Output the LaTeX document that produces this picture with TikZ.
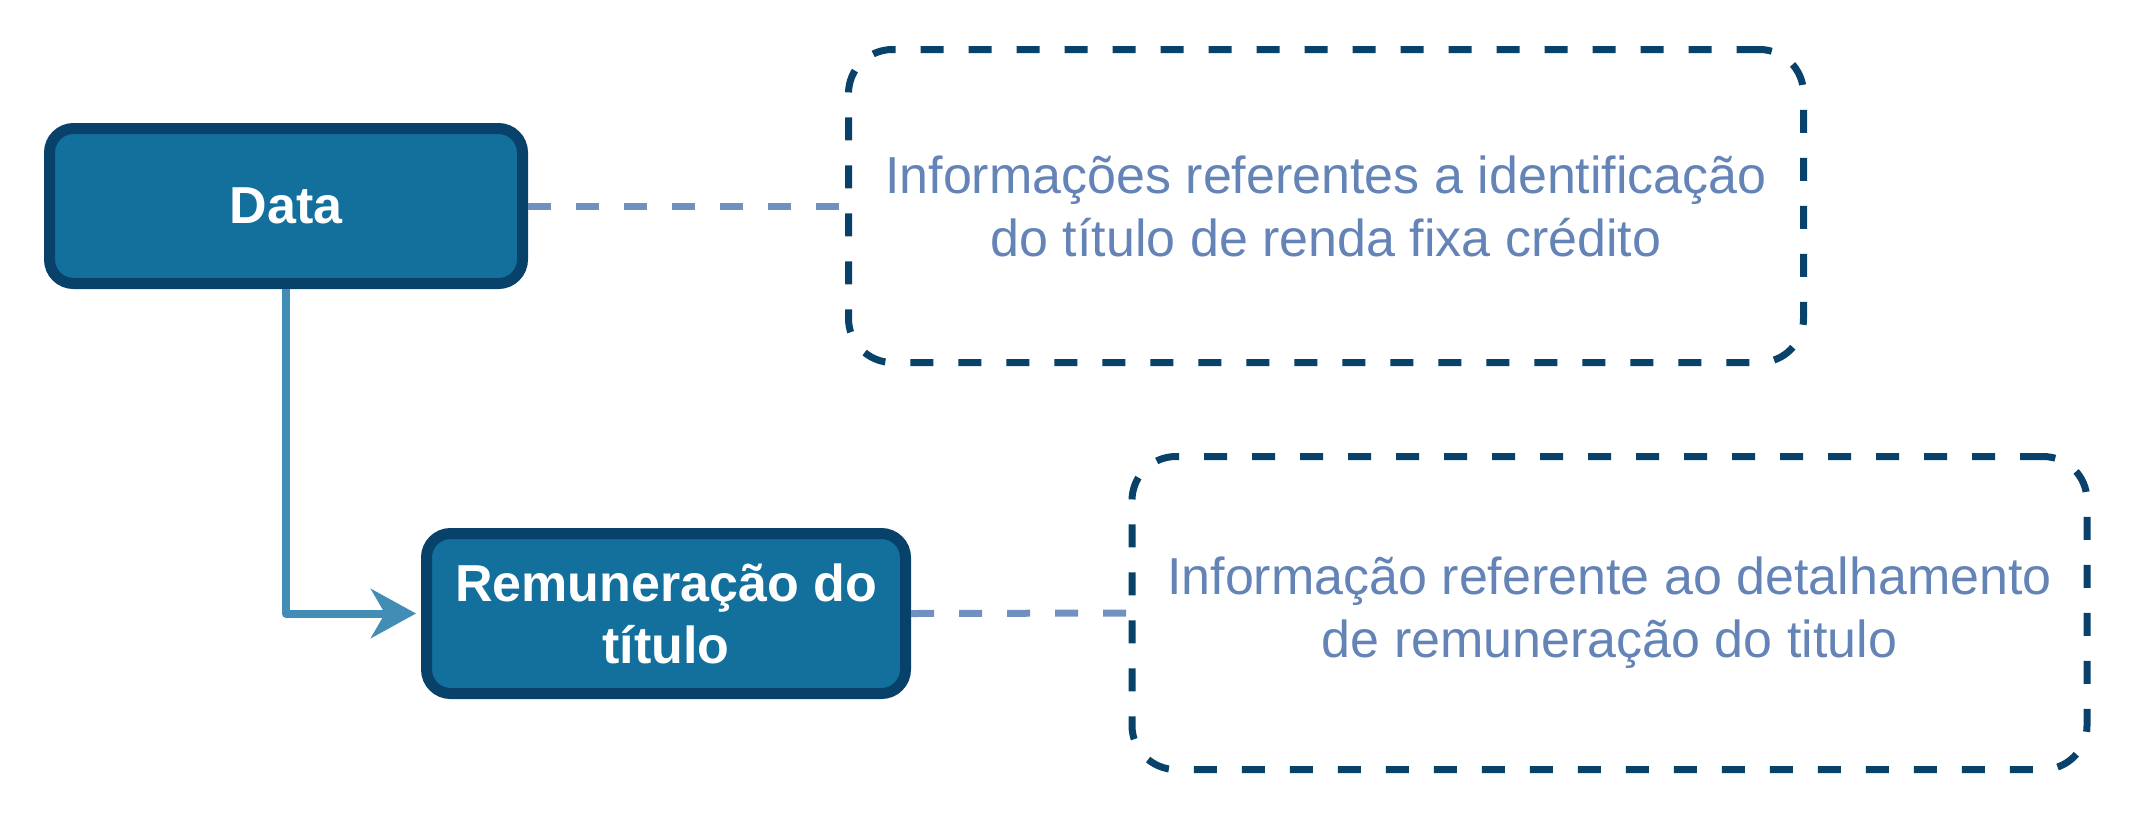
\documentclass[tikz,border=0pt]{standalone}
\usepackage{fontspec}
\setmainfont{Liberation Sans}
\usetikzlibrary{arrows.meta,positioning}
\definecolor{boxfill}{HTML}{13709C}
\definecolor{boxline}{HTML}{08426A}
\definecolor{infotext}{HTML}{6483B6}
\definecolor{linkline}{HTML}{7090C0}
\definecolor{arrowline}{HTML}{428DB5}
\begin{document}
\begin{tikzpicture}[x=0.5pt, y=-0.5pt, line join=round, >=Stealth,
	block/.style={draw=boxline, fill=boxfill, line width=5.5pt, rounded corners=12pt,
		text=white, font=\fontsize{26}{31}\selectfont\bfseries, align=center, inner sep=0pt},
	infobox/.style={draw=boxline, line width=3.5pt, dash pattern=on 11.5pt off 12.5pt,
		rounded corners=22pt, minimum width=477.5pt, minimum height=156.5pt,
		text=infotext, font=\fontsize{26}{31.5}\selectfont, align=center, inner sep=0pt},
	link/.style={draw=linkline, line width=3.5pt, dash pattern=on 11.5pt off 12.5pt}]
	\useasboundingbox (0,0) rectangle (2136,816);
	\node[block, minimum width=236.5pt, minimum height=77.5pt] (data) at (286,206) {Data};
	\node[block, minimum width=239.5pt, minimum height=80pt] (remun) at (666,613.5) {Remuneração do\\título};
	\node[infobox] (info1) at (1326,206) {Informações referentes a identificação\\do título de renda fixa crédito};
	\node[infobox] (info2) at (1609.5,613) {Informação referente ao detalhamento\\de remuneração do titulo};
	\draw[link] (data.east) -- (info1.west);
	\draw[link] (remun.east) -- (info2.west);
	\draw[arrowline, line width=4pt, -{Stealth[length=22.5pt, width=24.5pt, inset=7pt]}]
		(data.south) |- ([xshift=-2.5pt]remun.west);
\end{tikzpicture}
\end{document}
